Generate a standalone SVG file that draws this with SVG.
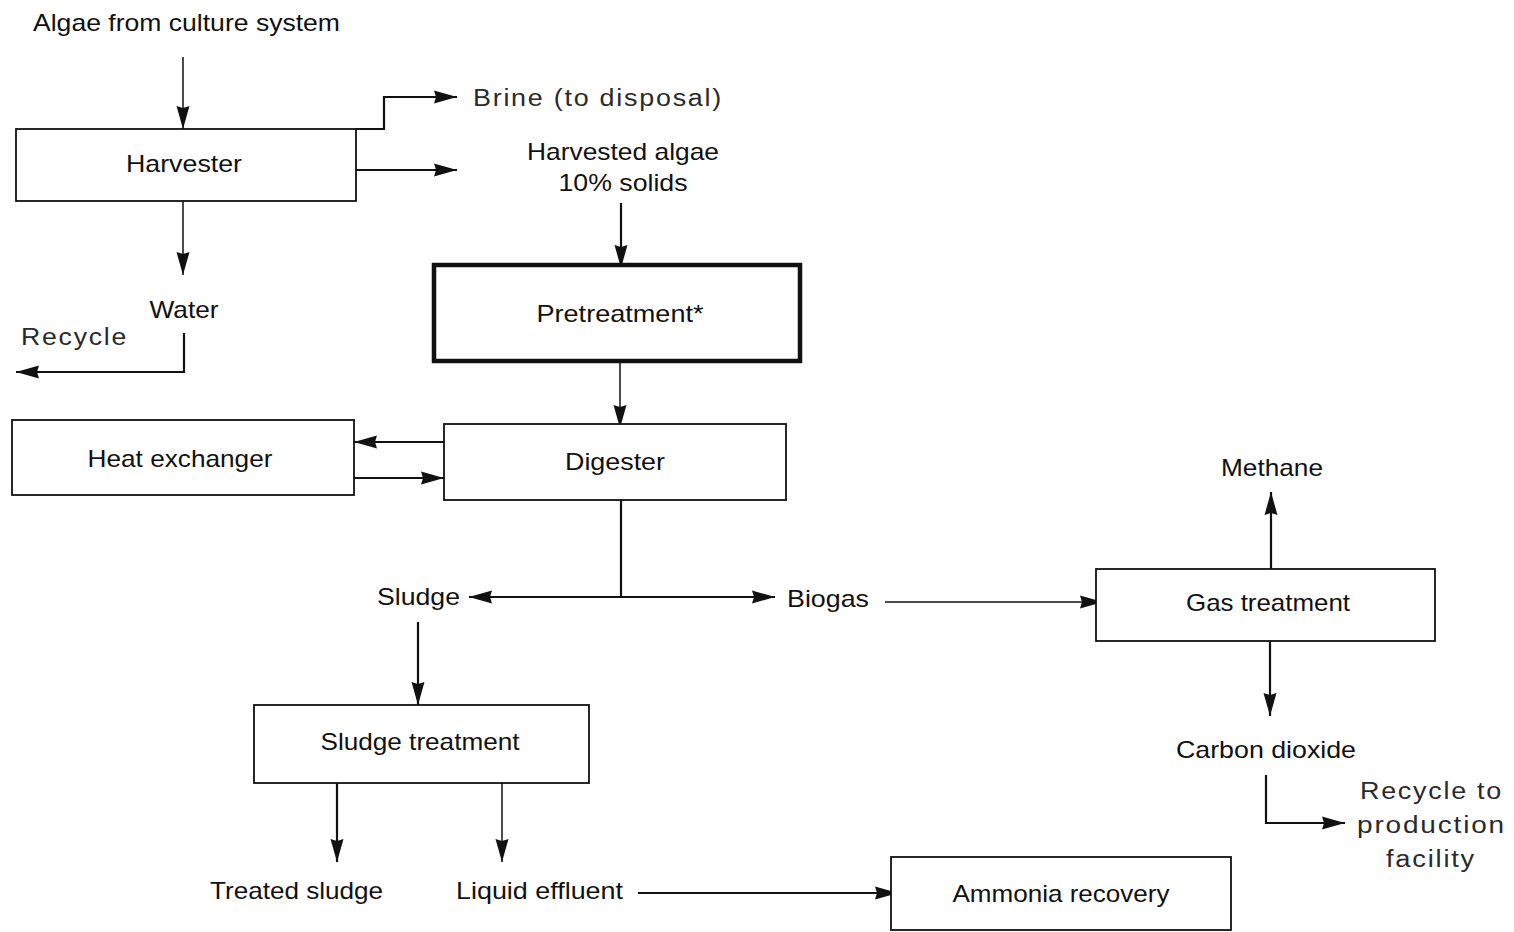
<svg xmlns="http://www.w3.org/2000/svg" width="1514" height="932" viewBox="0 0 1514 932">
  <style>
    .box { fill: #ffffff; stroke: #111111; stroke-width: 1.8; }
    .box-bold { fill: #ffffff; stroke: #111111; stroke-width: 4.5; }
    .lbl { font-family: "Liberation Sans", Arial, sans-serif; font-size: 24px; fill: #111111; }
    .mid { text-anchor: middle; }
    .light { font-family: "Liberation Sans", Arial, sans-serif; font-size: 23px; fill: #2a2a2a; letter-spacing: 1.5px; }
    .flow { fill: none; stroke: #111111; stroke-width: 2.2; marker-end: url(#arrow); }
    .thin { fill: none; stroke: #111111; stroke-width: 1.5; marker-end: url(#arrow); }
    .plain { fill: none; stroke: #111111; stroke-width: 2.2; }
  </style>
  <defs>
    <marker id="arrow" markerUnits="userSpaceOnUse" markerWidth="26" markerHeight="16" refX="23" refY="7" orient="auto">
      <path d="M0,0.5 L23,7 L0,13.5 L2,7 Z" fill="#111111"/>
    </marker>
    <marker id="arrow-start" markerUnits="userSpaceOnUse" markerWidth="26" markerHeight="16" refX="0" refY="7" orient="auto">
      <path d="M23,0.5 L0,7 L23,13.5 L21,7 Z" fill="#111111"/>
    </marker>
  </defs>

  <rect width="1514" height="932" fill="#ffffff"/>

  <!-- connectors -->
  <g id="connectors">
    <path class="thin" d="M183,57 V129"/>
    <path class="flow" d="M356,129 H384 V97 H457"/>
    <path class="flow" d="M356,170 H457"/>
    <path class="thin" d="M183,201 V275"/>
    <path class="flow" d="M184,333 V372 H16"/>
    <path class="flow" d="M621,203 V268"/>
    <path class="thin" d="M620,361 V428"/>
    <path class="flow" d="M444,442 H354"/>
    <path class="flow" d="M354,478 H444"/>
    <path class="plain" d="M621,500 V597"/>
    <path class="flow" d="M469,597 H775" marker-start="url(#arrow-start)"/>
    <path class="thin" d="M885,602 H1103"/>
    <path class="flow" d="M1271,569 V492"/>
    <path class="flow" d="M1270,641 V716"/>
    <path class="flow" d="M1266,775 V823 H1345"/>
    <path class="flow" d="M418,622 V705"/>
    <path class="flow" d="M337,783 V862"/>
    <path class="thin" d="M502,783 V862"/>
    <path class="flow" d="M638,893 H898"/>
  </g>

  <!-- process nodes -->
  <g id="harvester">
    <rect class="box" x="16" y="129" width="340" height="72"/>
    <text class="lbl mid" x="184" y="172" textLength="116" lengthAdjust="spacingAndGlyphs">Harvester</text>
  </g>
  <g id="pretreatment">
    <rect class="box-bold" x="434" y="265" width="366" height="96"/>
    <text class="lbl mid" x="620" y="322" textLength="167" lengthAdjust="spacingAndGlyphs">Pretreatment*</text>
  </g>
  <g id="heat-exchanger">
    <rect class="box" x="12" y="420" width="342" height="75"/>
    <text class="lbl mid" x="180" y="467" textLength="185" lengthAdjust="spacingAndGlyphs">Heat exchanger</text>
  </g>
  <g id="digester">
    <rect class="box" x="444" y="424" width="342" height="76"/>
    <text class="lbl mid" x="615" y="470" textLength="100" lengthAdjust="spacingAndGlyphs">Digester</text>
  </g>
  <g id="gas-treatment">
    <rect class="box" x="1096" y="569" width="339" height="72"/>
    <text class="lbl mid" x="1268" y="611" textLength="164" lengthAdjust="spacingAndGlyphs">Gas treatment</text>
  </g>
  <g id="sludge-treatment">
    <rect class="box" x="254" y="705" width="335" height="78"/>
    <text class="lbl mid" x="420" y="750" textLength="199" lengthAdjust="spacingAndGlyphs">Sludge treatment</text>
  </g>
  <g id="ammonia-recovery">
    <rect class="box" x="891" y="857" width="340" height="73"/>
    <text class="lbl mid" x="1061" y="902" textLength="217" lengthAdjust="spacingAndGlyphs">Ammonia recovery</text>
  </g>

  <!-- stream labels -->
  <g id="algae-source">
    <text class="lbl" x="33" y="31" textLength="307" lengthAdjust="spacingAndGlyphs">Algae from culture system</text>
  </g>
  <g id="brine">
    <text class="light" x="473" y="106" textLength="250" lengthAdjust="spacingAndGlyphs">Brine (to disposal)</text>
  </g>
  <g id="harvested-algae">
    <text class="lbl mid" x="623" y="160" textLength="192" lengthAdjust="spacingAndGlyphs">Harvested algae</text>
    <text class="lbl mid" x="623" y="191" textLength="129" lengthAdjust="spacingAndGlyphs">10% solids</text>
  </g>
  <g id="water">
    <text class="lbl mid" x="184" y="318" textLength="69" lengthAdjust="spacingAndGlyphs">Water</text>
  </g>
  <g id="recycle">
    <text class="light" x="21" y="345" textLength="107" lengthAdjust="spacingAndGlyphs">Recycle</text>
  </g>
  <g id="methane">
    <text class="lbl mid" x="1272" y="476" textLength="102" lengthAdjust="spacingAndGlyphs">Methane</text>
  </g>
  <g id="sludge">
    <text class="lbl" x="377" y="605" textLength="83" lengthAdjust="spacingAndGlyphs">Sludge</text>
  </g>
  <g id="biogas">
    <text class="lbl" x="787" y="607" textLength="82" lengthAdjust="spacingAndGlyphs">Biogas</text>
  </g>
  <g id="carbon-dioxide">
    <text class="lbl" x="1176" y="758" textLength="180" lengthAdjust="spacingAndGlyphs">Carbon dioxide</text>
  </g>
  <g id="recycle-production">
    <text class="light" x="1360" y="799" textLength="143" lengthAdjust="spacingAndGlyphs">Recycle to</text>
    <text class="light" x="1357" y="833" textLength="149" lengthAdjust="spacingAndGlyphs">production</text>
    <text class="light" x="1386" y="867" textLength="90" lengthAdjust="spacingAndGlyphs">facility</text>
  </g>
  <g id="treated-sludge">
    <text class="lbl" x="210" y="899" textLength="173" lengthAdjust="spacingAndGlyphs">Treated sludge</text>
  </g>
  <g id="liquid-effluent">
    <text class="lbl" x="456" y="899" textLength="167" lengthAdjust="spacingAndGlyphs">Liquid effluent</text>
  </g>
</svg>
